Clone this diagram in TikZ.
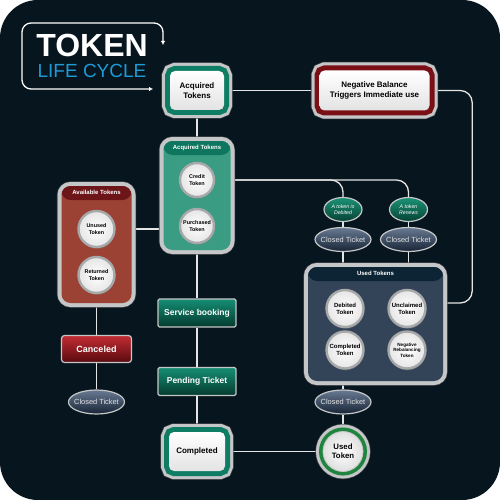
\documentclass[tikz,border=0pt]{standalone}
\usepackage{fontspec}
\setmainfont{Liberation Sans}
\usetikzlibrary{shapes.geometric,arrows.meta,shadows}

\definecolor{bgdark}{RGB}{7,22,30}
\definecolor{silverc}{RGB}{196,198,200}
\definecolor{rimdark}{RGB}{70,74,78}
\definecolor{tokgreen}{RGB}{14,125,99}
\definecolor{tokred}{RGB}{122,16,22}
\definecolor{grpgreen}{RGB}{58,156,130}
\definecolor{hdrgreen}{RGB}{14,118,94}
\definecolor{grpred}{RGB}{155,66,52}
\definecolor{hdrred}{RGB}{108,22,26}
\definecolor{grpslate}{RGB}{52,68,88}
\definecolor{hdrslate}{RGB}{12,36,52}
\definecolor{tealtop}{RGB}{22,142,116}
\definecolor{tealbot}{RGB}{4,58,46}
\definecolor{redtop}{RGB}{196,44,52}
\definecolor{redbot}{RGB}{88,10,14}
\definecolor{evtop}{RGB}{28,146,116}
\definecolor{evbot}{RGB}{6,66,54}
\definecolor{slatetop}{RGB}{104,122,146}
\definecolor{slatebot}{RGB}{24,36,54}
\definecolor{ringgreen}{RGB}{30,132,62}
\definecolor{titleblue}{RGB}{30,154,214}

\pgfdeclarelayer{back}
\pgfdeclarelayer{wires}
\pgfsetlayers{back,wires,main}

\tikzset{
  wire/.style={draw=white!90!black, line width=1.3pt},
  framebox/.style={rectangle, rounded corners=5pt, inner sep=1pt, align=center,
    preaction={draw=rimdark, line width=17.2pt},
    preaction={draw=silverc, line width=16pt},
    preaction={draw=#1, line width=10pt},
    top color=white, bottom color=gray!22,
    font=\bfseries\fontsize{8}{9.6}\selectfont},
  tokgrp/.style 2 args={rectangle, rounded corners=9pt, inner sep=0pt, fill=#1,
    preaction={draw=rimdark, line width=9.2pt},
    preaction={draw=silverc, line width=8pt},
    path picture={\fill[#2] (path picture bounding box.north west)
      rectangle ([yshift=-14pt]path picture bounding box.north east);}},
  grphead/.style={anchor=north, yshift=-3.8pt, inner sep=0pt, text=white,
    font=\bfseries\fontsize{6}{7}\selectfont},
  coin/.style={circle, minimum size=34pt, inner sep=0pt, align=center,
    draw=silverc!85!black, line width=2.4pt, inner color=white, outer color=gray!20,
    drop shadow={opacity=0.45, shadow xshift=0.6pt, shadow yshift=-1.8pt},
    font=\bfseries\fontsize{5.4}{6.2}\selectfont},
  usedcoin/.style={circle, minimum size=40pt, inner sep=0pt, align=center,
    preaction={draw=rimdark, line width=15.2pt},
    preaction={draw=silverc, line width=14pt},
    preaction={draw=ringgreen, line width=8pt},
    inner color=white, outer color=gray!25, draw=gray!45, line width=0.8pt,
    font=\bfseries\fontsize{7.8}{9}\selectfont},
  stepbox/.style={rectangle, rounded corners=1.5pt, minimum width=78pt, minimum height=28pt,
    top color=tealtop, bottom color=tealbot, draw=silverc, line width=1.2pt,
    text=white, font=\bfseries\fontsize{8.5}{10}\selectfont},
  cancelbox/.style={rectangle, rounded corners=3pt, minimum width=70pt, minimum height=27pt,
    top color=redtop, bottom color=redbot, draw=silverc, line width=1.2pt,
    text=white, font=\bfseries\fontsize{9}{10}\selectfont},
  eventoval/.style={ellipse, minimum width=38pt, minimum height=24pt, inner sep=0pt, align=center,
    top color=evtop, bottom color=evbot, draw=silverc, line width=1.2pt,
    text=white, font=\itshape\fontsize{5.2}{6.4}\selectfont},
  closedoval/.style={ellipse, minimum width=56pt, minimum height=24pt, inner ysep=0pt, inner xsep=-4pt,
    top color=slatetop, bottom color=slatebot, draw=silverc, line width=1.2pt,
    text=gray!22, font=\fontsize{7.4}{8}\selectfont}
}

\begin{document}
\begin{tikzpicture}[x=1pt, y=-1pt]
\useasboundingbox (0,0) rectangle (500,500);
\begin{pgfonlayer}{back}
\fill[white] (0,0) rectangle (500,500);
\fill[bgdark, rounded corners=38pt] (0,0) rectangle (500,500);
\end{pgfonlayer}

\node[inner sep=0pt, text=white, font=\bfseries\fontsize{32}{32}\selectfont] (title) at (92,45) {TOKEN};
\node[inner sep=0pt, text=titleblue, font=\fontsize{19}{19}\selectfont] (subtitle) at (92,70.5) {LIFE CYCLE};
\draw[white, line width=1.3pt, rounded corners=9pt, {Latex[length=4pt,width=4.5pt]}-{Latex[length=4pt,width=4.5pt]}]
  (153,89) -- (22,89) -- (22,23) -- (163,23) -- (163,45);

\node[framebox=tokgreen, minimum width=54pt, minimum height=39pt] (acq) at (197,90.5) {Acquired\\Tokens};
\node[framebox=tokred, minimum width=110pt, minimum height=40pt] (negbal) at (374.5,90.5) {Negative Balance\\Triggers Immediate use};

\node[tokgrp={grpgreen}{hdrgreen}, minimum width=67pt, minimum height=109pt,
  label={[grphead]north:Acquired Tokens}] (acqgrp) at (197,195.5) {};
\node[coin] (credit) at (197,180) {Credit\\Token};
\node[coin] (purch) at (197,226) {Purchased\\Token};

\node[tokgrp={grpred}{hdrred}, minimum width=70pt, minimum height=117pt,
  label={[grphead]north:Available Tokens}] (availgrp) at (96.5,244.5) {};
\node[coin, minimum size=36pt] (unused) at (96.5,229) {Unused\\Token};
\node[coin, minimum size=36pt] (returned) at (96.5,275) {Returned\\Token};

\node[eventoval] (debit) at (343,209.5) {A token is\\Debited};
\node[eventoval] (renew) at (408.5,209.5) {A token\\Renews};
\node[closedoval] (closedA) at (343,239.5) {Closed Ticket};
\node[closedoval] (closedB) at (408.5,239.5) {Closed Ticket};

\node[tokgrp={grpslate}{hdrslate}, minimum width=135pt, minimum height=114pt,
  label={[grphead]north:Used Tokens}] (usedgrp) at (375.5,324) {};
\node[coin, minimum size=37pt, font=\bfseries\fontsize{6}{7}\selectfont] (debtok) at (345,308.5) {Debited\\Token};
\node[coin, minimum size=37pt, font=\bfseries\fontsize{6}{7}\selectfont] (unclaim) at (407,308.5) {Unclaimed\\Token};
\node[coin, minimum size=37pt, font=\bfseries\fontsize{6}{7}\selectfont] (comptok) at (345,350) {Completed\\Token};
\node[coin, minimum size=37pt, font=\bfseries\fontsize{4.6}{5.4}\selectfont] (negtok) at (407,350) {Negative\\Rebalancing\\Token};

\node[closedoval] (closedC) at (343,402) {Closed Ticket};
\node[usedcoin] (usedtok) at (343,451.5) {Used\\Token};

\node[stepbox] (service) at (197,313) {Service booking};
\node[stepbox] (pending) at (197,381.5) {Pending Ticket};
\node[framebox=tokgreen, minimum width=56pt, minimum height=39pt] (completed) at (197,451.5) {Completed};

\node[cancelbox] (canceled) at (96.5,349) {Canceled};
\node[closedoval] (closedD) at (96.5,402) {Closed Ticket};

\begin{pgfonlayer}{wires}
\draw[wire] (acq.south) -- (acqgrp.north);
\draw[wire] (acq.east) -- (negbal.west);
\draw[wire, rounded corners=12pt] (negbal.east) -- ++(42.5,0) |- ([yshift=21pt]usedgrp.east);
\draw[wire] (unused -| availgrp.east) -- (unused -| acqgrp.west);
\draw[wire, rounded corners=12pt] (credit -| acqgrp.east) -| (debit.north);
\draw[wire, rounded corners=12pt] (credit -| acqgrp.east) -| (renew.north);
\draw[wire] (debit) -- (closedA) -- (closedA |- usedgrp.north);
\draw[wire] (renew) -- (closedB) -- (closedB |- usedgrp.north);
\draw[wire] (closedC |- usedgrp.south) -- (closedC) -- (usedtok);
\draw[wire] (acqgrp.south) -- (service) -- (pending) -- (completed);
\draw[wire] (completed) -- (usedtok);
\draw[wire] (availgrp.south) -- (canceled) -- (closedD);
\end{pgfonlayer}
\end{tikzpicture}
\end{document}
